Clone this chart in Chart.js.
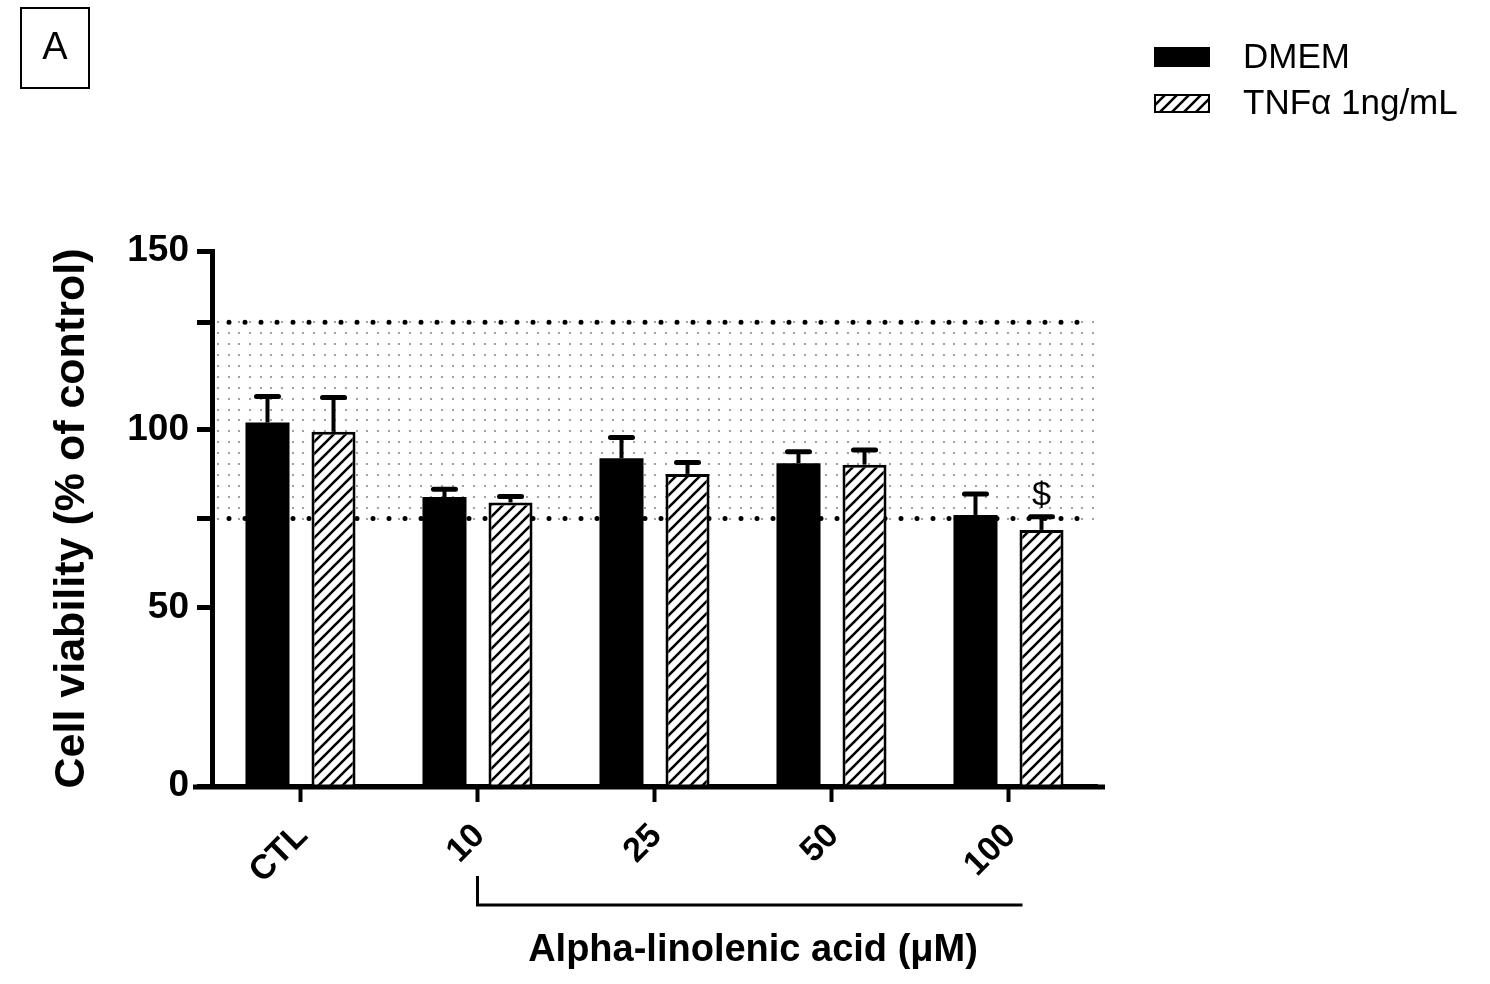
<!DOCTYPE html>
<html>
<head>
<meta charset="utf-8">
<script src="https://cdn.jsdelivr.net/npm/chart.js@4.4.1/dist/chart.umd.min.js"></script>
<style>
  html, body { margin: 0; padding: 0; background: #fff; }
</style>
</head>
<body>
<canvas id="viability" width="1490" height="984"></canvas>
<script>
// values (mean and upper SD)
const categories = ['CTL', '10', '25', '50', '100'];
const seriesNames = ['DMEM', 'TNFα 1ng/mL'];
const dmemMean = [101.9, 81.0, 91.9, 90.5, 76.0];
const dmemSd = [7.3, 2.2, 5.8, 3.2, 5.9];
const tnfMean = [99.3, 79.5, 87.5, 90.1, 71.8];
const tnfSd = [9.6, 1.7, 3.2, 4.1, 3.7];
const tnfMarks = ['', '', '', '', '$'];
const yTicks = [0, 50, 75, 100, 130, 150];
const yLabelled = [0, 50, 100, 150];
const bandLimits = [75, 130];

const FONT = "'Liberation Sans', Arial, sans-serif";
Chart.defaults.font.family = FONT;
Chart.defaults.color = '#000';

// white tile with "/" lines for the TNF bars
function makeHatch(s, lw) {
    var c = document.createElement('canvas');
    c.width = s; c.height = s;
    var g = c.getContext('2d');
    g.fillStyle = '#fff';
    g.fillRect(0, 0, s, s);
    g.strokeStyle = '#000';
    g.lineWidth = lw;
    g.beginPath();
    g.moveTo(0, s); g.lineTo(s, 0);
    g.moveTo(-2, 2); g.lineTo(2, -2);
    g.moveTo(s - 2, s + 2); g.lineTo(s + 2, s - 2);
    g.stroke();
    return document.createElement('canvas').getContext('2d').createPattern(c, 'repeat');
}
const hatch = makeHatch(12, 2.6);

/* dotted band between 75 and 130, drawn behind the bars */
const bandPlugin = {
    id: 'band',
    beforeDatasetsDraw(chart) {
        const {ctx, chartArea, scales} = chart;
        const yTop = scales.y.getPixelForValue(bandLimits[1]);
        const yBot = scales.y.getPixelForValue(bandLimits[0]);
        const left = chartArea.left + 6, right = chartArea.right + 2;
        ctx.save();
        ctx.fillStyle = '#a0a0a0';
        const rows = 18, step = (yBot - yTop) / rows;
        for (let r = 0; r <= rows; r++) {
            const py = Math.round(yTop + r * step);
            for (let px = left; px <= right; px += 10.67) {
                ctx.fillRect(Math.round(px) - 1, py - 1, 2, 2);
            }
        }
        ctx.strokeStyle = '#000';
        ctx.lineWidth = 5;
        ctx.lineCap = 'round';
        ctx.setLineDash([0, 16]);
        [yTop, yBot].forEach(function (py) {
            ctx.beginPath();
            ctx.moveTo(left + 11, py);
            ctx.lineTo(right - 8, py);
            ctx.stroke();
        });
        ctx.restore();
    }
};

/* upward error bars and the $ mark */
const errorPlugin = {
    id: 'errorBars',
    afterDatasetsDraw(chart) {
        const {ctx, scales} = chart;
        ctx.save();
        ctx.strokeStyle = '#000';
        chart.data.datasets.forEach(function (ds, i) {
            const meta = chart.getDatasetMeta(i);
            meta.data.forEach(function (bar, j) {
                const top = scales.y.getPixelForValue(ds.data[j] + ds.sd[j]);
                ctx.lineWidth = 4;
                ctx.lineCap = 'butt';
                ctx.beginPath();
                ctx.moveTo(bar.x, bar.y);
                ctx.lineTo(bar.x, top);
                ctx.stroke();
                ctx.lineWidth = 5;
                ctx.lineCap = 'round';
                ctx.beginPath();
                ctx.moveTo(bar.x - 11, top);
                ctx.lineTo(bar.x + 11, top);
                ctx.stroke();
                if (ds.marks && ds.marks[j]) {
                    ctx.fillStyle = '#000';
                    ctx.font = '34px ' + FONT;
                    ctx.textAlign = 'center';
                    ctx.textBaseline = 'alphabetic';
                    ctx.fillText(ds.marks[j], bar.x, top - 12);
                }
            });
        });
        ctx.restore();
    }
};

/* panel letter, legend, bracket and x title */
const decorPlugin = {
    id: 'decor',
    afterDraw(chart) {
        const {ctx, chartArea, scales} = chart;
        ctx.save();
        ctx.fillStyle = '#000';
        ctx.strokeStyle = '#000';

        // x axis runs a bit past the y axis on both sides
        ctx.lineWidth = 5;
        ctx.beginPath();
        ctx.moveTo(chartArea.left - 19, chartArea.bottom + 1);
        ctx.lineTo(chartArea.right + 8, chartArea.bottom + 1);
        ctx.stroke();

        // panel letter
        ctx.lineWidth = 2;
        ctx.strokeRect(21, 8, 68, 80);
        ctx.font = '38px ' + FONT;
        ctx.textAlign = 'center';
        ctx.textBaseline = 'middle';
        ctx.fillText('A', 55, 49);

        // legend
        const ds = chart.data.datasets;
        ctx.fillStyle = ds[0].backgroundColor;
        ctx.fillRect(1154, 47, 56, 20);
        ctx.fillStyle = ds[1].backgroundColor;
        ctx.fillRect(1155, 95, 54, 17);
        ctx.lineWidth = 2;
        ctx.strokeRect(1155, 95, 54, 17);
        ctx.fillStyle = '#000';
        ctx.font = '35px ' + FONT;
        ctx.textAlign = 'left';
        ctx.fillText(ds[0].label, 1243, 58);
        ctx.fillText(ds[1].label, 1243, 104);

        // bracket under the doses
        const x1 = scales.x.getPixelForValue(1);
        const x2 = scales.x.getPixelForValue(4) + 14;
        const yb = chartArea.bottom + 119;
        ctx.lineWidth = 3;
        ctx.beginPath();
        ctx.moveTo(x1, chartArea.bottom + 90);
        ctx.lineTo(x1, yb);
        ctx.lineTo(x2, yb);
        ctx.stroke();

        ctx.font = 'bold 38px ' + FONT;
        ctx.textAlign = 'center';
        ctx.fillText('Alpha-linolenic acid (μM)', (x1 + x2) / 2 + 3, chartArea.bottom + 165);
        ctx.restore();
    }
};

const chart = new Chart(document.getElementById('viability'), {
    type: 'bar',
    data: {
        labels: categories,
        datasets: [
            { label: seriesNames[0], data: dmemMean, sd: dmemSd,
              backgroundColor: '#000', borderColor: '#000', borderWidth: 0 },
            { label: seriesNames[1], data: tnfMean, sd: tnfSd, marks: tnfMarks,
              backgroundColor: hatch, borderColor: '#000', borderWidth: 3 }
        ]
    },
    options: {
        responsive: false,
        animation: false,
        categoryPercentage: 0.746,
        barPercentage: 0.667,
        layout: { padding: { left: 0, top: 251, right: 393, bottom: 0 } },
        plugins: { legend: { display: false }, tooltip: { enabled: false } },
        scales: {
            x: {
                grid: { offset: false, drawOnChartArea: false, tickLength: 16, tickWidth: 4, tickColor: '#000' },
                border: { display: true, color: '#000', width: 5 },
                ticks: { color: '#000', font: { size: 34, weight: 'bold' }, minRotation: 45, maxRotation: 45,
                         autoSkip: false, padding: 14, labelOffset: 2 },
                afterFit: function (s) { s.height = 198; }
            },
            y: {
                min: 0,
                max: 150,
                afterBuildTicks: function (s) { s.ticks = yTicks.map(function (v) { return { value: v }; }); },
                grid: { drawOnChartArea: false, tickLength: 15, tickWidth: 5, tickColor: '#000' },
                border: { display: true, color: '#000', width: 5 },
                ticks: { color: '#000', font: { size: 37, weight: 'bold' }, padding: 8,
                         callback: function (v) { return yLabelled.indexOf(v) >= 0 ? v : ''; } },
                title: { display: true, text: 'Cell viability (% of control)', color: '#000',
                         font: { size: 43, weight: 'bold' }, padding: { top: 46, bottom: 0 } },
                afterFit: function (s) { s.width = 212; }
            }
        }
    },
    plugins: [bandPlugin, errorPlugin, decorPlugin]
});
</script>
</body>
</html>
